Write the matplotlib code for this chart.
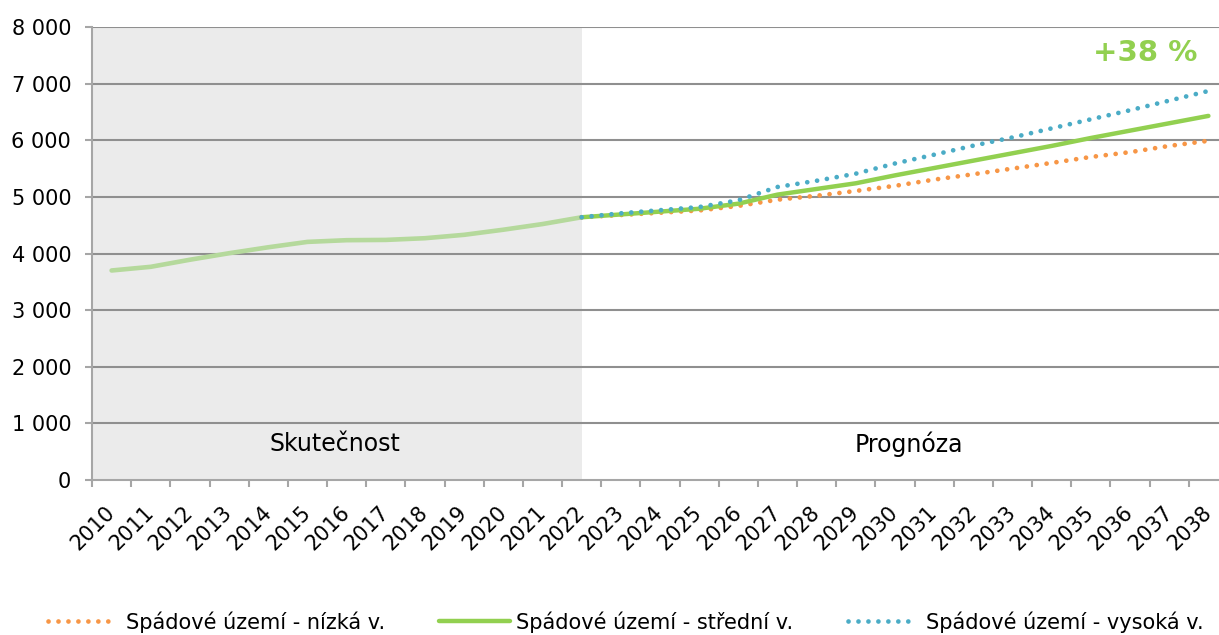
import numpy as np
import matplotlib
matplotlib.use("Agg")
from matplotlib import pyplot as plt

years = list(range(2010, 2039))
# skutečnost 2010-2022
actual = [3700, 3765, 3890, 4005, 4110, 4205, 4235, 4240, 4270, 4330, 4420, 4520, 4640]
# prognózy 2022-2038
low = [4640, 4680, 4720, 4760, 4840, 4950, 5020, 5105, 5195, 5305, 5400, 5500, 5600, 5705, 5790, 5900, 5990]
mid = [4640, 4690, 4740, 4790, 4880, 5040, 5140, 5240, 5380, 5510, 5640, 5770, 5900, 6040, 6170, 6300, 6430]
high = [4640, 4710, 4765, 4820, 4940, 5175, 5285, 5410, 5590, 5745, 5905, 6050, 6210, 6370, 6530, 6700, 6870]
yticks = [0, 1000, 2000, 3000, 4000, 5000, 6000, 7000, 8000]
ytick_labels = ["0", "1 000", "2 000", "3 000", "4 000", "5 000", "6 000", "7 000", "8 000"]
legend_labels = ["Spádové území - nízká v.", "Spádové území - střední v.", "Spádové území - vysoká v."]

c_act = "#b5d99c"
c_low = "#f79646"
c_mid = "#92d050"
c_high = "#4bacc6"
grid_c = "#8f8f8f"

x_act = np.arange(len(actual))
x_fc = np.arange(len(actual) - 1, len(years))

fig = plt.figure(figsize=(12.19, 6.35), dpi=100)
ax = fig.add_axes([92/1219, 1-480/635, 1136/1219, 453/635])

ax.axvspan(-0.5, 12, color="#ebebeb", zorder=0, lw=0)
for y in yticks[1:]:
    ax.axhline(y, color=grid_c, lw=1.5, zorder=1)

dots = (0, (0.01, 2.1))
ax.plot(x_act, actual, color=c_act, lw=3.3, solid_capstyle="round", zorder=3)
l_low, = ax.plot(x_fc, low, color=c_low, lw=3.4, linestyle=dots, dash_capstyle="round", zorder=4)
l_mid, = ax.plot(x_fc, mid, color=c_mid, lw=3.2, solid_capstyle="round", zorder=5)
l_high, = ax.plot(x_fc, high, color=c_high, lw=3.4, linestyle=dots, dash_capstyle="round", zorder=6)

ax.set_xlim(-0.5, len(years) - 0.5)
ax.set_ylim(0, 8000)
ax.set_yticks(yticks)
ax.set_yticklabels(ytick_labels, fontsize=15)
ax.set_xticks(np.arange(len(years)))
ax.set_xticklabels([str(y) for y in years], fontsize=15, rotation=45,
                   ha="right", va="center", rotation_mode="anchor")
ax.set_xticks(np.arange(len(years) + 1) - 0.5, minor=True)
ax.tick_params(axis="x", which="major", length=0, pad=21)
ax.tick_params(axis="x", which="minor", length=5, color="#a6a6a6", width=1.5)
ax.tick_params(axis="y", length=5, color="#a6a6a6", width=1.5, pad=10)

for s in ["top", "right"]:
    ax.spines[s].set_visible(False)
for s in ["left", "bottom"]:
    ax.spines[s].set_color("#a6a6a6")
    ax.spines[s].set_linewidth(1.5)

ax.text(5.7, 640, "Skutečnost", fontsize=17, ha="center", va="center", zorder=7)
ax.text(20.35, 640, "Prognóza", fontsize=17, ha="center", va="center", zorder=7)
ax.text(27.72, 7540, "+38 %", fontsize=21, fontweight="bold", color=c_mid,
        ha="right", va="center", zorder=7)

# legend items placed one by one like the Excel legend
items = [(l_low, legend_labels[0], 48, 3.0, 0.75),
         (l_mid, legend_labels[1], 439, 3.4, 0.3),
         (l_high, legend_labels[2], 848, 3.0, 0.75)]
for h, lab, xpx, hl, tp in items:
    leg = fig.legend([h], [lab], loc="center left", bbox_to_anchor=(xpx/1219, 1-622/635),
                     frameon=False, fontsize=15, handlelength=hl, handletextpad=tp,
                     borderpad=0, borderaxespad=0)

fig.savefig("out.png", dpi=100)
